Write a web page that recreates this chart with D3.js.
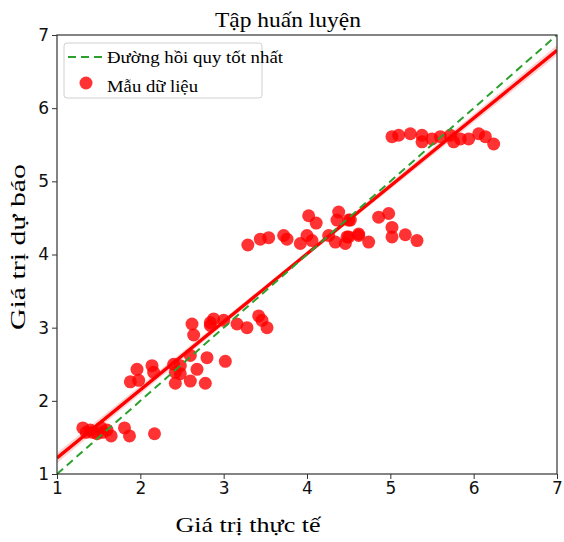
<!DOCTYPE html>
<html>
<head>
<meta charset="utf-8">
<script src="https://cdn.jsdelivr.net/npm/d3@7"></script>
<style>
  html, body { margin: 0; padding: 0; background: #ffffff; }
  svg { display: block; }
</style>
</head>
<body>
<div id="chart"></div>
<script>
// --- data ---
const actualX = [
  1.31, 1.35, 1.40, 1.43, 1.48, 1.53, 1.55, 1.60, 1.65, 1.81, 1.87, 2.17,
  1.96, 1.88, 1.98, 2.14, 2.16, 2.40, 2.48, 2.42, 2.48, 2.60, 2.68, 2.80, 3.02, 2.42, 2.60, 2.78,
  2.62, 2.64, 2.84, 2.88, 2.84, 3.00, 3.16, 3.28, 3.42, 3.46, 3.52,
  3.29, 3.44, 3.54, 3.72, 3.76, 3.92, 4.00, 4.02, 4.11, 4.06, 4.26, 4.34, 4.38, 4.36, 4.50, 4.48, 4.62, 4.46,
  4.52, 4.50, 4.62, 4.74, 4.86, 4.98, 5.02, 5.02, 5.18, 5.32,
  5.02, 5.10, 5.24, 5.38, 5.38, 5.50, 5.60, 5.72, 5.76, 5.84, 5.94, 6.06, 6.14, 6.24
];
const predictedY = [
  1.63, 1.57, 1.60, 1.57, 1.55, 1.63, 1.57, 1.60, 1.52, 1.63, 1.52, 1.55,
  2.43, 2.26, 2.28, 2.48, 2.39, 2.50, 2.48, 2.39, 2.37, 2.62, 2.43, 2.59, 2.54, 2.24, 2.27, 2.24,
  3.05, 2.90, 3.07, 3.12, 3.03, 3.10, 3.05, 3.00, 3.16, 3.10, 3.00,
  4.13, 4.21, 4.23, 4.26, 4.21, 4.15, 4.26, 4.53, 4.43, 4.19, 4.26, 4.17, 4.58, 4.47, 4.47, 4.24, 4.26, 4.15,
  4.47, 4.24, 4.28, 4.17, 4.51, 4.56, 4.37, 4.24, 4.27, 4.19,
  5.61, 5.63, 5.65, 5.63, 5.54, 5.58, 5.61, 5.63, 5.54, 5.58, 5.58, 5.65, 5.61, 5.51
];
// fitted regression line and its confidence band
const fitX = [1, 4, 7];
const fitY = [1.22, 4.01, 6.79];
const fitBand = [0.07, 0.03, 0.07];
// reference y = x line
const idealX = [1, 7];
const idealY = [1, 7];
const xTicks = [1, 2, 3, 4, 5, 6, 7];
const yTicks = [1, 2, 3, 4, 5, 6, 7];

const width = 564, height = 542;
const margin = { left: 57, right: 7, top: 35, bottom: 68 };
const serif = "'Liberation Serif', 'DejaVu Serif', serif";
const sans = "'DejaVu Sans', sans-serif";

const svg = d3.select("#chart").append("svg")
  .attr("width", width).attr("height", height);

const x = d3.scaleLinear().domain([1, 7]).range([margin.left, width - margin.right]);
const y = d3.scaleLinear().domain([1, 7]).range([height - margin.bottom, margin.top]);

svg.append("clipPath").attr("id", "plot-clip")
  .append("rect")
  .attr("x", margin.left).attr("y", margin.top)
  .attr("width", x(7) - x(1)).attr("height", y(1) - y(7));

const plot = svg.append("g").attr("clip-path", "url(#plot-clip)");

// confidence band
const band = fitX.map((v, i) => ({ x: v, lo: fitY[i] - fitBand[i], hi: fitY[i] + fitBand[i] }));
plot.append("path")
  .datum(band)
  .attr("d", d3.area().x(d => x(d.x)).y0(d => y(d.lo)).y1(d => y(d.hi)))
  .attr("fill", "red").attr("opacity", 0.18);

// points
const pts = actualX.map((v, i) => ({ x: v, y: predictedY[i] }));
plot.selectAll("circle.pt")
  .data(pts).enter().append("circle")
  .attr("class", "pt")
  .attr("cx", d => x(d.x)).attr("cy", d => y(d.y))
  .attr("r", 6.5)
  .attr("fill", "red").attr("opacity", 0.8);

// regression line
plot.append("path")
  .datum(fitX.map((v, i) => [v, fitY[i]]))
  .attr("d", d3.line().x(d => x(d[0])).y(d => y(d[1])))
  .attr("fill", "none").attr("stroke", "red").attr("stroke-width", 3.2);

// y = x dashed line
plot.append("path")
  .datum(idealX.map((v, i) => [v, idealY[i]]))
  .attr("d", d3.line().x(d => x(d[0])).y(d => y(d[1])))
  .attr("fill", "none").attr("stroke", "#2ca02c")
  .attr("stroke-width", 2).attr("stroke-dasharray", "8,5");

// axes
const xAxis = svg.append("g")
  .attr("transform", `translate(0,${y(1)})`)
  .call(d3.axisBottom(x).tickValues(xTicks).tickSize(5).tickPadding(3).tickFormat(d3.format("d")));
const yAxis = svg.append("g")
  .attr("transform", `translate(${x(1)},0)`)
  .call(d3.axisLeft(y).tickValues(yTicks).tickSize(5).tickPadding(3).tickFormat(d3.format("d")));
[xAxis, yAxis].forEach(a => {
  a.selectAll("text").style("font-family", sans).style("font-size", "17px").attr("fill", "#111");
  a.selectAll("line").attr("stroke", "#333");
  a.select(".domain").remove();
});

// frame
svg.append("rect")
  .attr("x", x(1)).attr("y", y(7))
  .attr("width", x(7) - x(1)).attr("height", y(1) - y(7))
  .attr("fill", "none").attr("stroke", "#333").attr("stroke-width", 1.2);

// title and labels
svg.append("text")
  .attr("x", 288).attr("y", 27)
  .attr("text-anchor", "middle")
  .attr("textLength", 146).attr("lengthAdjust", "spacingAndGlyphs")
  .style("font-family", serif).style("font-size", "22px")
  .text("Tập huấn luyện");

svg.append("text")
  .attr("x", 248).attr("y", 532)
  .attr("text-anchor", "middle")
  .attr("textLength", 145).attr("lengthAdjust", "spacingAndGlyphs")
  .style("font-family", serif).style("font-size", "22px")
  .text("Giá trị thực tế");

svg.append("text")
  .attr("transform", "translate(25,247) rotate(-90)")
  .attr("text-anchor", "middle")
  .attr("textLength", 166).attr("lengthAdjust", "spacingAndGlyphs")
  .style("font-family", serif).style("font-size", "22px")
  .text("Giá trị dự báo");

// legend
const lg = svg.append("g").attr("transform", "translate(64,43)");
lg.append("rect")
  .attr("width", 198).attr("height", 55).attr("rx", 3)
  .attr("fill", "#fff").attr("fill-opacity", 0.8)
  .attr("stroke", "#d0d0d0");
lg.append("line")
  .attr("x1", 4).attr("x2", 38).attr("y1", 14).attr("y2", 14)
  .attr("stroke", "#2ca02c").attr("stroke-width", 2).attr("stroke-dasharray", "8,5");
lg.append("text")
  .attr("x", 43).attr("y", 20)
  .attr("textLength", 176).attr("lengthAdjust", "spacingAndGlyphs")
  .style("font-family", serif).style("font-size", "17px")
  .text("Đường hồi quy tốt nhất");
lg.append("circle")
  .attr("cx", 22).attr("cy", 40).attr("r", 6.5)
  .attr("fill", "red").attr("opacity", 0.8);
lg.append("text")
  .attr("x", 43).attr("y", 49)
  .attr("textLength", 91).attr("lengthAdjust", "spacingAndGlyphs")
  .style("font-family", serif).style("font-size", "17px")
  .text("Mẫu dữ liệu");
</script>
</body>
</html>
